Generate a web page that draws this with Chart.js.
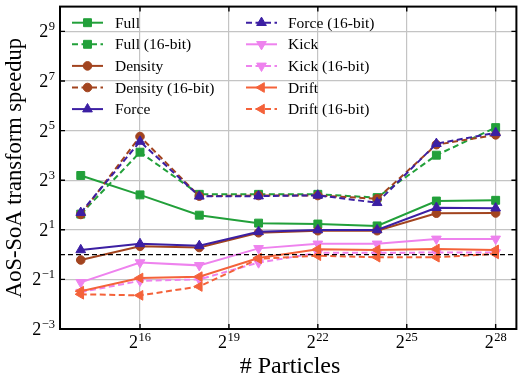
<!DOCTYPE html>
<html><head><meta charset="utf-8">
<script src="https://cdn.jsdelivr.net/npm/chart.js@4/dist/chart.umd.min.js"></script>
<style>html,body{margin:0;padding:0;background:#fff;}</style>
</head><body>
<canvas id="c" width="523" height="380"></canvas>
<script>
// ---- data ----
const particles = [2**14, 2**16, 2**18, 2**20, 2**22, 2**24, 2**26, 2**28];
const full        = [9.13, 5.31, 3.01, 2.41, 2.35, 2.23, 4.47, 4.56];
const full16      = [3.10, 17.5, 5.39, 5.39, 5.39, 4.92, 16.1, 34.8];
const density     = [0.86, 1.26, 1.22, 1.84, 1.95, 1.95, 3.18, 3.20];
const density16   = [3.07, 27.1, 5.13, 5.21, 5.21, 4.76, 21.6, 28.4];
const force       = [1.14, 1.35, 1.28, 1.89, 1.99, 1.99, 3.71, 3.66];
const force16     = [3.23, 23.6, 5.10, 5.13, 5.24, 4.26, 22.2, 30.1];
const kick        = [0.46, 0.80, 0.74, 1.19, 1.35, 1.35, 1.55, 1.55];
const kick16      = [0.35, 0.48, 0.50, 0.80, 1.05, 1.05, 1.06, 1.06];
const drift       = [0.36, 0.52, 0.54, 0.91, 1.16, 1.14, 1.17, 1.14];
const drift16     = [0.33, 0.32, 0.41, 0.89, 0.97, 0.93, 0.93, 1.02];
const seriesLabels = ['Full','Full (16-bit)','Density','Density (16-bit)','Force','Force (16-bit)','Kick','Kick (16-bit)','Drift','Drift (16-bit)'];
const xTickExps = [16, 19, 22, 25, 28];
const yTickExps = [-3, -1, 1, 3, 5, 7, 9];
const xLabel = '# Particles';
const yLabel = 'AoS-SoA transform speedup';

// ---- styles ----
const C = {full:'#22a03a', density:'#a2441f', force:'#3c1fa3', kick:'#ee82ee', drift:'#f4623a'};
const SERIF = '"Liberation Serif", "DejaVu Serif", serif';
const DASH = [6, 3.5];
const styleFor = [
  {c:C.full, m:'square', d:false}, {c:C.full, m:'square', d:true},
  {c:C.density, m:'circle', d:false}, {c:C.density, m:'circle', d:true},
  {c:C.force, m:'up', d:false}, {c:C.force, m:'up', d:true},
  {c:C.kick, m:'down', d:false}, {c:C.kick, m:'down', d:true},
  {c:C.drift, m:'left', d:false}, {c:C.drift, m:'left', d:true}
];
const allValues = [full, full16, density, density16, force, force16, kick, kick16, drift, drift16];

function markerOpts(m) {
  switch (m) {
    case 'square': return {pointStyle:'rect', pointRadius:5.6, pointRotation:0};
    case 'circle': return {pointStyle:'circle', pointRadius:4.3, pointRotation:0};
    case 'up': return {pointStyle:'triangle', pointRadius:5.6, pointRotation:0};
    case 'down': return {pointStyle:'triangle', pointRadius:5.6, pointRotation:180};
    case 'left': return {pointStyle:'triangle', pointRadius:5.6, pointRotation:270};
  }
}

const datasets = allValues.map((vals, i) => {
  const s = styleFor[i];
  const mo = markerOpts(s.m);
  return {
    label: seriesLabels[i],
    data: particles.map((x, j) => ({x, y: vals[j]})),
    borderColor: s.c, backgroundColor: s.c,
    pointBackgroundColor: s.c, pointBorderColor: s.c, pointBorderWidth: 1,
    borderWidth: 2, borderDash: s.d ? DASH : [],
    pointStyle: mo.pointStyle, pointRadius: mo.pointRadius, pointRotation: mo.pointRotation,
    pointHoverRadius: mo.pointRadius,
    tension: 0, fill: false, order: 20 - i
  };
});

function drawMarker(ctx, m, x, y, color) {
  const o = markerOpts(m);
  const r = o.pointRadius;
  ctx.save();
  ctx.fillStyle = color; ctx.strokeStyle = color; ctx.lineWidth = 1; ctx.setLineDash([]);
  ctx.beginPath();
  if (m === 'square') {
    const s = Math.SQRT1_2 * r; ctx.rect(x - s, y - s, 2*s, 2*s);
  } else if (m === 'circle') {
    ctx.arc(x, y, r, 0, Math.PI*2);
  } else {
    let rad = o.pointRotation * Math.PI / 180;
    ctx.moveTo(x + Math.sin(rad)*r, y - Math.cos(rad)*r);
    rad += 2*Math.PI/3; ctx.lineTo(x + Math.sin(rad)*r, y - Math.cos(rad)*r);
    rad += 2*Math.PI/3; ctx.lineTo(x + Math.sin(rad)*r, y - Math.cos(rad)*r);
    ctx.closePath();
  }
  ctx.fill(); ctx.stroke();
  ctx.restore();
}

function drawPow(ctx, exp, x, baseY, align) {
  const base = '2';
  const sup = exp < 0 ? '\u2212' + (-exp) : String(exp);
  ctx.font = '18px ' + SERIF; const wb = ctx.measureText(base).width;
  ctx.font = '12.5px ' + SERIF; const ws = ctx.measureText(sup).width;
  const total = wb + ws + 0.5;
  const x0 = align === 'center' ? x - total/2 : x - total;
  ctx.textAlign = 'left'; ctx.textBaseline = 'alphabetic'; ctx.fillStyle = '#000';
  ctx.font = '18px ' + SERIF; ctx.fillText(base, x0, baseY);
  ctx.font = '12.5px ' + SERIF; ctx.fillText(sup, x0 + wb + 0.5, baseY - 7.5);
}

const decor = {
  id: 'decor',
  afterDatasetsDraw(chart) {
    const ctx = chart.ctx, a = chart.chartArea;
    const xs = chart.scales.x, ys = chart.scales.y;
    ctx.save();
    // reference line at speedup = 1
    const y1 = ys.getPixelForValue(1);
    ctx.strokeStyle = '#000'; ctx.lineWidth = 1.4; ctx.setLineDash([5, 3]);
    ctx.beginPath(); ctx.moveTo(a.left, y1); ctx.lineTo(a.right, y1); ctx.stroke();
    ctx.setLineDash([]);
    // frame
    ctx.lineWidth = 2; ctx.strokeStyle = '#000';
    ctx.strokeRect(a.left, a.top, a.right - a.left, a.bottom - a.top);
    // inward ticks
    ctx.lineWidth = 1.4;
    ctx.beginPath();
    xTickExps.forEach(e => {
      const px = xs.getPixelForValue(2**e);
      ctx.moveTo(px, a.bottom); ctx.lineTo(px, a.bottom - 5);
      ctx.moveTo(px, a.top); ctx.lineTo(px, a.top + 5);
    });
    yTickExps.forEach(e => {
      const py = ys.getPixelForValue(2**e);
      ctx.moveTo(a.left, py); ctx.lineTo(a.left + 5, py);
      ctx.moveTo(a.right, py); ctx.lineTo(a.right - 5, py);
    });
    ctx.stroke();
    // tick labels
    xTickExps.forEach(e => drawPow(ctx, e, xs.getPixelForValue(2**e), a.bottom + 19, 'center'));
    yTickExps.forEach(e => drawPow(ctx, e, a.left - 5, ys.getPixelForValue(2**e) + 6, 'right'));
    // axis titles
    ctx.fillStyle = '#000';
    ctx.textAlign = 'center'; ctx.textBaseline = 'middle';
    ctx.font = '24px ' + SERIF;
    ctx.fillText(xLabel, 290, 367);
    ctx.save();
    ctx.font = '22.5px ' + SERIF;
    ctx.translate(15, 168);
    ctx.rotate(-Math.PI/2);
    ctx.fillText(yLabel, 0, 0);
    ctx.restore();
    // legend (two columns, inside plot)
    const cols = [{x0: 72, x1: 103, tx: 115}, {x0: 246, x1: 277, tx: 288}];
    const rowY = [22.7, 44.3, 65.9, 87.5, 109.1];
    ctx.font = '15.5px ' + SERIF; ctx.textAlign = 'left'; ctx.textBaseline = 'middle';
    seriesLabels.forEach((lab, i) => {
      const col = cols[Math.floor(i / 5)], y = rowY[i % 5], s = styleFor[i];
      ctx.strokeStyle = s.c; ctx.lineWidth = 2; ctx.setLineDash(s.d ? DASH : []);
      ctx.beginPath(); ctx.moveTo(col.x0, y); ctx.lineTo(col.x1, y); ctx.stroke();
      ctx.setLineDash([]);
      drawMarker(ctx, s.m, (col.x0 + col.x1)/2, y, s.c);
      ctx.fillStyle = '#000'; ctx.fillText(lab, col.tx, y + 1);
    });
    ctx.restore();
  }
};

new Chart(document.getElementById('c'), {
  type: 'line',
  data: { datasets },
  options: {
    responsive: false, animation: false, devicePixelRatio: 1,
    layout: { padding: { top: 4, right: 3, left: 0, bottom: 0 } },
    plugins: { legend: { display: false }, tooltip: { enabled: false } },
    scales: {
      x: {
        type: 'logarithmic', min: 2**13.3, max: 2**28.7, bounds: 'data',
        afterBuildTicks: s => { s.ticks = xTickExps.map(e => ({value: 2**e})); },
        afterFit: s => { s.height = 51; },
        ticks: { display: false },
        grid: { color: '#c4c4c4', lineWidth: 1.2, drawTicks: false },
        border: { display: false }
      },
      y: {
        type: 'logarithmic', min: 2**-3, max: 2**10, bounds: 'data',
        afterBuildTicks: s => { s.ticks = yTickExps.map(e => ({value: 2**e})); },
        afterFit: s => { s.width = 60; },
        ticks: { display: false },
        grid: { color: '#c4c4c4', lineWidth: 1.2, drawTicks: false },
        border: { display: false }
      }
    }
  },
  plugins: [decor]
});
</script>
</body></html>
